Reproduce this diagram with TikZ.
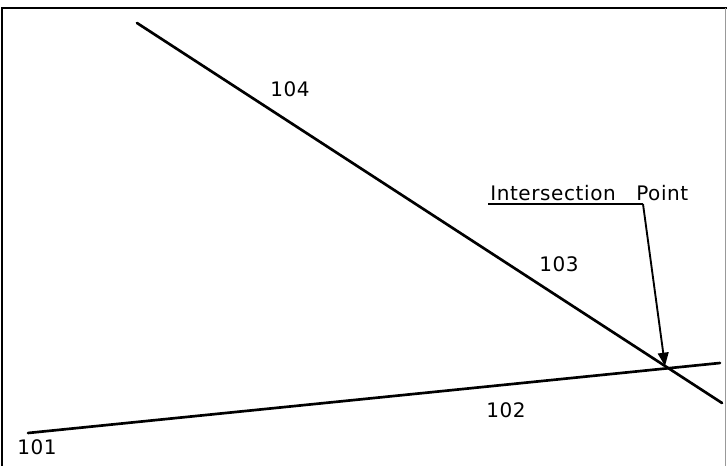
\documentclass[tikz,border=0pt]{standalone}
\usepackage{fontspec}
\setmainfont{DejaVu Sans}[LetterSpace=3]
\usetikzlibrary{arrows.meta}
\begin{document}
\begin{tikzpicture}[x=0.75pt,y=-0.75pt,
  ln/.style={line width=2pt,line cap=round},
  lbl/.style={font=\fontsize{15pt}{18pt}\selectfont,inner sep=0pt,anchor=base},
  lead/.style={line width=1.4pt}]
\useasboundingbox (0,0) rectangle (727,466);
% frame
\draw[line width=1.2pt] (2,466) -- (2,8) -- (727,8);
\draw[line width=0.5pt,black!40] (725,8) -- (725,466);
% lines
\coordinate (a) at (137,23);
\coordinate (b) at (722,403);
\coordinate (c) at (28,433);
\coordinate (d) at (720,363);
\draw[ln] (a) -- (b);
\draw[ln] (c) -- (d);
% labels
\node[lbl] (l104) at (290,97) {104};
\node[lbl] (l103) at (559,272) {103};
\node[lbl] (l102) at (506,417) {102};
\node[lbl] (l101) at (37,454) {101};
\node[lbl,anchor=base west] (int) at (490,201) {Intersection};
\node[lbl,anchor=base west] (pt) at (636,201) {Point};
% leader
\coordinate (uL) at (488,204);
\coordinate (uR) at (643,204);
\coordinate (tip) at (665,366);
\draw[lead] (uL) -- (uR);
\draw[lead,-{Triangle[length=10pt,width=8pt]}] (uR) -- (tip);
\end{tikzpicture}
\end{document}
